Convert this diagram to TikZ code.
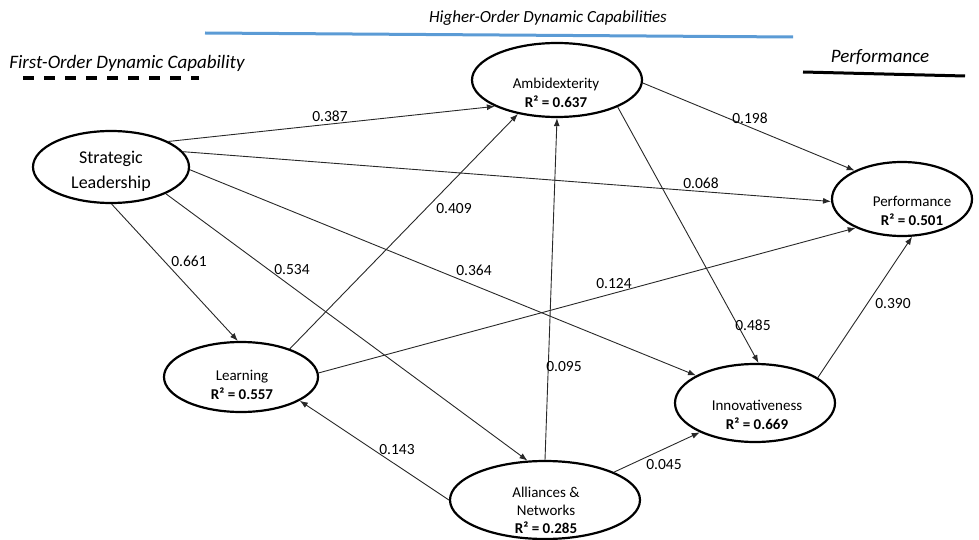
\documentclass[tikz,border=0pt]{standalone}
\usepackage{fontspec}
\setmainfont{Carlito}
\usetikzlibrary{shapes.geometric,arrows.meta}
\definecolor{headblue}{RGB}{91,155,213}
\definecolor{edgegray}{RGB}{40,40,40}
\begin{document}
\begin{tikzpicture}[x=1pt,y=-1pt,
  construct/.style={ellipse,draw=black,line width=2.2pt,inner sep=0pt},
  caption/.style={inner sep=0pt,align=center,font=\fontsize{15}{19.5}\selectfont},
  effect/.style={draw=edgegray,line width=0.9pt,-{Latex[length=8pt,width=6pt]}},
  coef/.style={inner sep=0pt,font=\fontsize{15.5}{17}\selectfont},
  heading/.style={inner sep=0pt,font=\fontsize{17}{20}\selectfont\itshape}]
\useasboundingbox (0,0) rectangle (979,540);

% legend headings
\node[heading] (h-high) at (548,18) {Higher-Order Dynamic Capabilities};
\draw[headblue,line width=3pt] (205,33) -- (793,37);
\node[heading,font=\fontsize{19}{22}\selectfont\itshape] (h-first) at (127,63) {First-Order Dynamic Capability};
\draw[black,line width=3.3pt,dash pattern=on 11pt off 10pt] (23,78) -- (199,78);
\node[heading,font=\fontsize{19}{22}\selectfont\itshape] (h-perf) at (880,57) {Performance};
\draw[black,line width=3pt] (803,72) -- (965,76);

% constructs
\node[construct,minimum width=156pt,minimum height=72pt] (sl) at (111,167) {};
\node[caption,font=\fontsize{18}{25}\selectfont] (sl-t) at (111,171) {Strategic\\Leadership};

\node[construct,minimum width=170pt,minimum height=74pt] (amb) at (557,80) {};
\node[caption] (amb-t) at (556,93) {Ambidexterity\\\textbf{R² = 0.637}};

\node[construct,minimum width=140pt,minimum height=74pt] (perf) at (902,199) {};
\node[caption] (perf-t) at (912,211) {Performance\\\textbf{R² = 0.501}};

\node[construct,minimum width=154pt,minimum height=70pt] (learn) at (241,377) {};
\node[caption] (learn-t) at (242,385) {Learning\\\textbf{R² = 0.557}};

\node[construct,minimum width=190pt,minimum height=78pt] (alli) at (545,500) {};
\node[caption,font=\fontsize{15}{18}\selectfont] (alli-t) at (546,510) {Alliances \&\\Networks\\\textbf{R² = 0.285}};

\node[construct,minimum width=160pt,minimum height=78pt] (innov) at (755,403) {};
\node[caption] (innov-t) at (757,415) {Innovativeness\\\textbf{R² = 0.669}};

% structural paths
\draw[effect] (sl.24) -- (amb.203.5);
\draw[effect] (sl.12) -- (perf.182);
\draw[effect] (sl.-2) -- (innov.155);
\draw[effect] (sl.-89) -- (learn.95);
\draw[effect] (sl.-26) -- (alli.114);
\draw[effect] (learn.30) -- (amb.221);
\draw[effect] (learn.3) -- (perf.212);
\draw[effect] (alli.180) -- (learn.-22);
\draw[effect] (alli.90) -- (amb.270);
\draw[effect] (alli.22) -- (innov.208);
\draw[effect] (amb.-2) -- (perf.149);
\draw[effect] (amb.-24) -- (innov.85);
\draw[effect] (innov.22) -- (perf.285);

% path coefficients
\node[coef] (c1) at (330,116) {0.387};
\node[coef] (c2) at (701,183) {0.068};
\node[coef] (c3) at (474,270) {0.364};
\node[coef] (c4) at (189,261) {0.661};
\node[coef] (c5) at (292,270) {0.534};
\node[coef] (c6) at (454,209) {0.409};
\node[coef] (c7) at (614,284) {0.124};
\node[coef] (c8) at (397,450) {0.143};
\node[coef] (c9) at (564,367) {0.095};
\node[coef] (c10) at (664,465) {0.045};
\node[coef] (c11) at (750,118) {0.198};
\node[coef] (c12) at (753,325) {0.485};
\node[coef] (c13) at (893,304) {0.390};
\end{tikzpicture}
\end{document}
